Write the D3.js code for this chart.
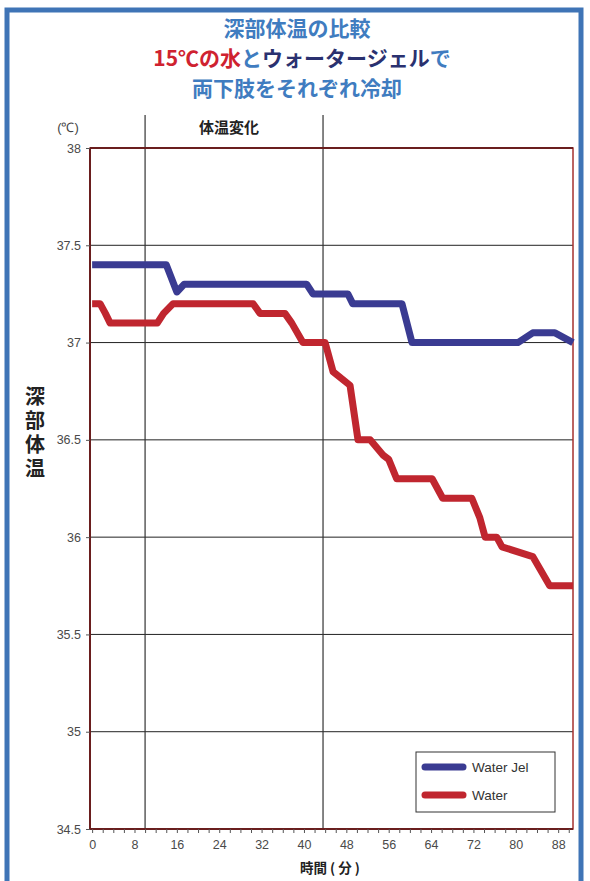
<!DOCTYPE html>
<html>
<head>
<meta charset="utf-8">
<script src="https://cdn.jsdelivr.net/npm/d3@7"></script>
<style>
  body { margin: 0; background: #fff; }
  text { font-family: "Liberation Sans", Arial, sans-serif; }
  .jp { font-family: "Noto Sans CJK JP", sans-serif; font-weight: bold; }
</style>
</head>
<body>
<script>
const width = 590;
const height = 881;
const margin = {top: 148, bottom: 52, left: 90, right: 17};

// data (minutes / deg C)
const jelTime  = [0, 14, 16, 17.4, 40.5, 41.7, 48.3, 49.2, 58.5, 60.4, 80.4, 83.2, 87.4, 90.8];
const jelTemp  = [37.4, 37.4, 37.26, 37.3, 37.3, 37.25, 37.25, 37.2, 37.2, 37.0, 37.0, 37.05, 37.05, 37.0];
const waterTime = [0, 1.5, 2.5, 3.4, 12.3, 13.5, 15.3, 30.4, 31.7, 36.4, 37.7, 39.8, 44, 45.5, 48.7, 50.2,
                   52.5, 55, 56, 57.5, 64.2, 66.2, 71.7, 73.2, 74.2, 76.4, 77.4, 83.2, 86.4, 90.8];
const waterTemp = [37.2, 37.2, 37.15, 37.1, 37.1, 37.15, 37.2, 37.2, 37.15, 37.15, 37.1, 37.0, 37.0, 36.85, 36.78, 36.5,
                   36.5, 36.42, 36.4, 36.3, 36.3, 36.2, 36.2, 36.1, 36.0, 36.0, 35.95, 35.9, 35.75, 35.75];
const yTicks = [34.5, 35, 35.5, 36, 36.5, 37, 37.5, 38];
const xTickLabels = [0, 8, 16, 24, 32, 40, 48, 56, 64, 72, 80, 88];
const markers = [10, 43.6];

const svg = d3.select('body').append('svg').attr('width', width).attr('height', height);

// outer blue frame
svg.append('rect').attr('x', 7).attr('y', 10).attr('width', 574).attr('height', 885)
   .attr('fill', 'none').attr('stroke', '#3f74b6').attr('stroke-width', 5);

// title
const title = svg.append('g').attr('class', 'title');
title.append('text').attr('class', 'jp').attr('x', 297).attr('y', 36).attr('text-anchor', 'middle')
     .attr('font-size', 21).attr('fill', '#3f7cc0').text('深部体温の比較');
const t2 = title.append('text').attr('class', 'jp').attr('x', 302).attr('y', 66).attr('text-anchor', 'middle')
     .attr('font-size', 21);
t2.append('tspan').attr('fill', '#cf2230').text('15℃の水');
t2.append('tspan').attr('fill', '#3f7cc0').text('と');
t2.append('tspan').attr('fill', '#2a3170').text('ウォータージェル');
t2.append('tspan').attr('fill', '#3f7cc0').text('で');
title.append('text').attr('class', 'jp').attr('x', 297).attr('y', 96).attr('text-anchor', 'middle')
     .attr('font-size', 21).attr('fill', '#3f7cc0').text('両下肢をそれぞれ冷却');

const x = d3.scaleLinear().domain([-0.4, 90.8]).range([margin.left, width - margin.right]);
const y = d3.scaleLinear().domain([34.5, 38]).range([height - margin.bottom, margin.top]);

const grp = svg.append('g');

// grid lines
grp.selectAll('line.grid').data(yTicks.slice(1, -1)).join('line').attr('class', 'grid')
   .attr('x1', x(-0.4)).attr('x2', x(90.8)).attr('y1', d => y(d)).attr('y2', d => y(d))
   .attr('stroke', '#222').attr('stroke-width', 1);

// marker lines
grp.selectAll('line.mark').data(markers).join('line').attr('class', 'mark')
   .attr('x1', d => x(d)).attr('x2', d => x(d)).attr('y1', 115).attr('y2', y(34.5))
   .attr('stroke', '#333').attr('stroke-width', 1.2);

// plot frame
grp.append('rect').attr('x', x(-0.4)).attr('y', y(38)).attr('width', x(90.8) - x(-0.4)).attr('height', y(34.5) - y(38))
   .attr('fill', 'none').attr('stroke', '#a5302e').attr('stroke-width', 1.5);
grp.append('line').attr('x1', x(-0.4)).attr('x2', x(90.8)).attr('y1', y(38)).attr('y2', y(38))
   .attr('stroke', '#6a1e1e').attr('stroke-width', 2);
grp.append('line').attr('x1', x(-0.4)).attr('x2', x(-0.4)).attr('y1', y(38)).attr('y2', y(34.5))
   .attr('stroke', '#6a1e1e').attr('stroke-width', 2);
grp.append('line').attr('x1', x(-0.4)).attr('x2', x(90.8)).attr('y1', y(34.5)).attr('y2', y(34.5))
   .attr('stroke', '#6a1e1e').attr('stroke-width', 2);

// y axis
const yAxis = svg.append('g').attr('transform', `translate(${x(-0.4)},0)`)
   .call(d3.axisLeft(y).tickValues(yTicks).tickSize(4).tickPadding(5).tickFormat(d3.format('')));
yAxis.select('.domain').remove();
yAxis.selectAll('text').attr('font-size', 12.5).attr('fill', '#4a4a4a');
yAxis.selectAll('line').attr('stroke', '#555');

// x axis
const xAxis = svg.append('g').attr('transform', `translate(0,${y(34.5)})`)
   .call(d3.axisBottom(x).tickValues(d3.range(0, 91, 2)).tickSize(4).tickPadding(7)
        .tickFormat(d => xTickLabels.includes(d) ? d : ''));
xAxis.select('.domain').remove();
xAxis.selectAll('text').attr('font-size', 12.5).attr('fill', '#4a4a4a');
xAxis.selectAll('line').attr('stroke', '#555');

// lines
const line = d3.line().x(d => x(d[0])).y(d => y(d[1]));
const jelData = jelTime.map((t, i) => [t, jelTemp[i]]);
const waterData = waterTime.map((t, i) => [t, waterTemp[i]]);
grp.append('path').datum(jelData).attr('d', line).attr('fill', 'none')
   .attr('stroke', '#3a3b92').attr('stroke-width', 7).attr('stroke-linejoin', 'round');
grp.append('path').datum(waterData).attr('d', line).attr('fill', 'none')
   .attr('stroke', '#c0262f').attr('stroke-width', 7).attr('stroke-linejoin', 'round');

// labels
svg.append('text').attr('x', 68).attr('y', 132).attr('text-anchor', 'middle').attr('font-size', 13)
   .attr('fill', '#444').text('(℃)');
svg.append('text').attr('class', 'jp').attr('x', 229).attr('y', 133).attr('text-anchor', 'middle')
   .attr('font-size', 15).attr('fill', '#222').text('体温変化');
// vertical y label
svg.append('text').attr('class', 'jp').attr('x', 35).attr('y', 434).attr('text-anchor', 'middle')
   .style('writing-mode', 'vertical-rl').style('letter-spacing', '4px')
   .attr('font-size', 20).attr('fill', '#222').text('深部体温');
svg.append('text').attr('class', 'jp').attr('x', 330).attr('y', 873).attr('text-anchor', 'middle')
   .attr('font-size', 13.5).attr('fill', '#222').text('時間 ( 分 )');

// legend
const legend = svg.append('g').attr('transform', 'translate(416,752)');
legend.append('rect').attr('width', 139).attr('height', 60).attr('fill', '#fff')
   .attr('stroke', '#333').attr('stroke-width', 1);
const items = [['Water Jel', '#3a3b92'], ['Water', '#c0262f']];
items.forEach((it, i) => {
  legend.append('line').attr('x1', 9).attr('x2', 47).attr('y1', 15 + i * 28).attr('y2', 15 + i * 28)
     .attr('stroke', it[1]).attr('stroke-width', 7).attr('stroke-linecap', 'round');
  legend.append('text').attr('x', 56).attr('y', 20 + i * 28).attr('font-size', 13.5).attr('fill', '#333').text(it[0]);
});
</script>
</body>
</html>
